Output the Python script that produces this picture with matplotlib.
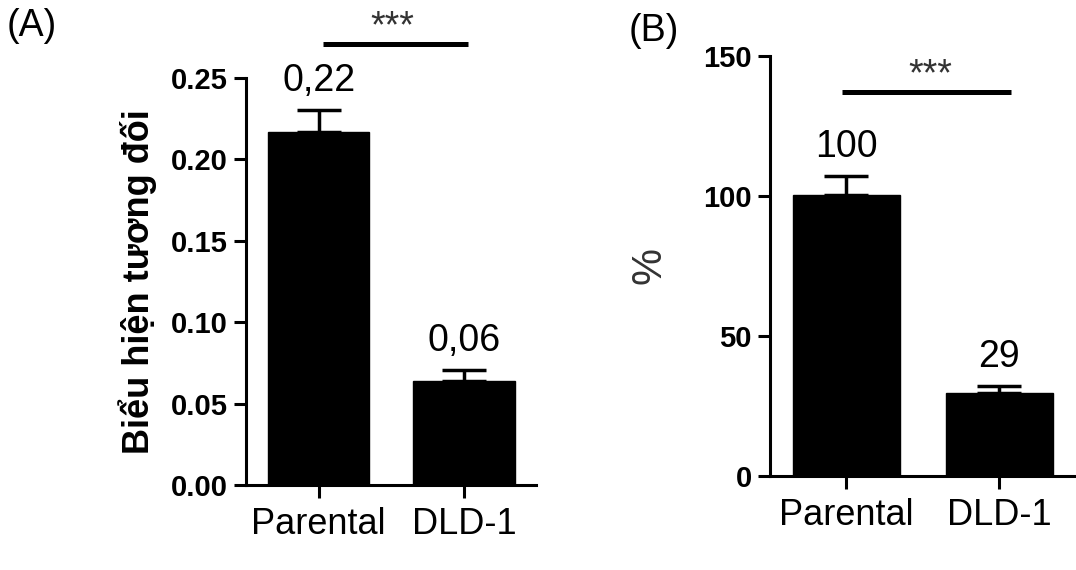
import numpy as np
import matplotlib
matplotlib.use('Agg')
import matplotlib.pyplot as plt

plt.rcParams['font.family'] = ['Liberation Sans', 'DejaVu Sans']

# Data
categories = ['Parental', 'DLD-1']
expr_values = [0.217, 0.064]
expr_err = [0.0135, 0.0067]
expr_labels = ['0,22', '0,06']
pct_values = [100.4, 29.6]
pct_err = [6.8, 2.6]
pct_labels = ['100', '29']


def bar_panel(ax, values, errs, labels, ylim, yticks, fmt, sig_y, sig_x, star_x):
    x = np.arange(len(categories))
    ax.bar(x, values, width=0.7, color='black', edgecolor='black', zorder=2)
    ax.errorbar(x, values, yerr=[np.zeros(len(errs)), errs], fmt='none',
                ecolor='black', elinewidth=2.5, capsize=16, capthick=2.5, zorder=1)
    for xi, v, e, lab in zip(x, values, errs, labels):
        ax.annotate(lab, (xi, v + e), xytext=(0, 8), textcoords='offset points',
                    ha='center', va='bottom', fontsize=27)
    ax.set_xlim(-0.5, 1.5)
    ax.set_ylim(*ylim)
    ax.set_yticks(yticks)
    ax.set_yticklabels([fmt.format(t) for t in yticks], fontweight='bold', fontsize=21)
    ax.set_xticks(x)
    ax.set_xticklabels(categories, fontsize=26)
    ax.spines['top'].set_visible(False)
    ax.spines['right'].set_visible(False)
    for s in ['left', 'bottom']:
        ax.spines[s].set_linewidth(2.2)
    ax.tick_params(axis='both', direction='out', length=9, width=2.2, pad=4)
    ax.tick_params(axis='x', pad=7)
    # significance bar
    ax.plot(sig_x, [sig_y, sig_y], color='black', lw=3.6, clip_on=False,
            solid_capstyle='butt')
    ax.annotate('***', (star_x, sig_y), xytext=(0, -1), textcoords='offset points',
                ha='center', va='bottom', fontsize=27, color='#333333',
                annotation_clip=False)
    return ax


fig = plt.figure(figsize=(10.76, 5.70), dpi=100)

ax1 = fig.add_axes([0.2286, 0.149, 0.270, 0.714])
bar_panel(ax1, expr_values, expr_err, expr_labels, (0, 0.25),
          [0, 0.05, 0.10, 0.15, 0.20, 0.25], '{:.2f}',
          0.271, [0.03, 1.03], 0.51)
ax1.set_ylabel('Biểu hiện tương đối', fontsize=26, fontweight='bold', labelpad=10)

ax2 = fig.add_axes([0.7156, 0.165, 0.284, 0.737])
bar_panel(ax2, pct_values, pct_err, pct_labels, (0, 150),
          [0, 50, 100, 150], '{:.0f}',
          137, [-0.03, 1.08], 0.55)
ax2.set_ylabel('%', fontsize=30, color='#333333', labelpad=24)

fig.text(0.006, 0.955, '(A)', fontsize=27, va='center', ha='left')
fig.text(0.584, 0.945, '(B)', fontsize=27, va='center', ha='left')

fig.savefig('out.png', dpi=100)
